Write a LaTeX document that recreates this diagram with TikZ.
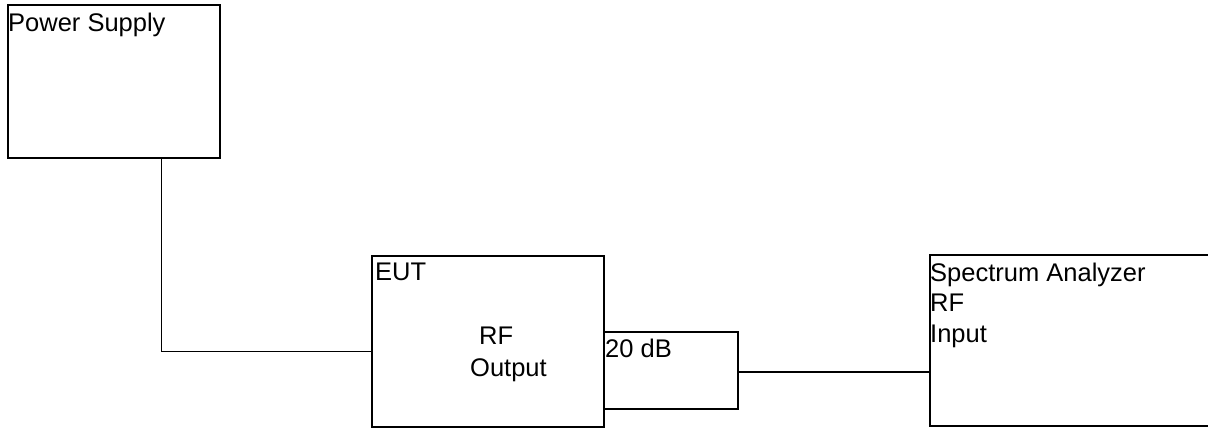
\documentclass[tikz,border=0pt]{standalone}
\usepackage{fontspec}
\setmainfont{Liberation Sans}
\begin{document}
\begin{tikzpicture}[x=1pt,y=1pt,
  box/.style={draw,line width=1.8pt,rectangle,anchor=north west,inner sep=0pt},
  lbl/.style={anchor=base west,inner sep=0pt,font=\fontsize{25.5}{30}\selectfont},
  wire/.style={line width=1.8pt}]
\useasboundingbox (0,0) rectangle (1208,-428);
\clip (0,0) rectangle (1208,-428);
% equipment boxes
\node[box,minimum width=212pt,minimum height=153pt] (ps)  at (7,-4)    {};
\node[box,minimum width=232pt,minimum height=171pt] (eut) at (371,-255) {};
\node[box,minimum width=134pt,minimum height=77pt]  (att) at (603,-331) {};
\node[box,minimum width=300pt,minimum height=171pt] (sa)  at (929,-254) {};
% box texts
\node[lbl] (psT)  at (8,-31.5)    {Power Supply};
\node[lbl] (eutT) at (375,-280)   {EUT};
\node[lbl] (rfo1) at (479,-344.3) {RF};
\node[lbl] (rfo2) at (470,-376)   {Output};
\node[lbl] (attT) at (605,-357.5) {20 dB};
\node[lbl] (saT1) at (930,-281.7) {Spectrum Analyzer};
\node[lbl] (saT2) at (930,-311.9) {RF};
\node[lbl] (saT3) at (930,-342.5) {Input};
% wiring
\draw[wire] (ps.south west) ++(154.5pt,0) |- ([yshift=-10pt]eut.west);
\draw[wire] ([yshift=-1.5pt]att.east) -- ([yshift=-1.5pt]att.east -| sa.west);
\end{tikzpicture}
\end{document}
